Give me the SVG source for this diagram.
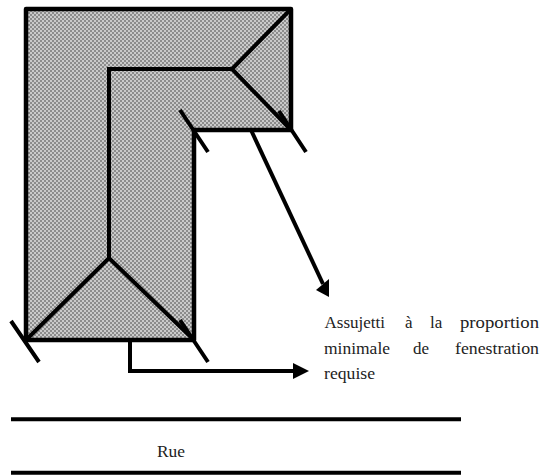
<svg xmlns="http://www.w3.org/2000/svg" width="542" height="476" viewBox="0 0 542 476">
<style>
.o{fill:none;stroke:#000;stroke-linecap:butt;stroke-width:4}
.t{font-family:"Liberation Serif","Times New Roman",serif;font-size:17px;fill:#222}
</style>
<defs>
<pattern id="chk" width="4" height="4" patternUnits="userSpaceOnUse">
<rect width="4" height="4" fill="#cacaca"/>
<rect width="2" height="2" fill="#8c8c8c"/>
<rect x="2" y="2" width="2" height="2" fill="#8c8c8c"/>
</pattern>
</defs>
<rect width="542" height="476" fill="#fff"/>
<g id="building">
<path d="M26 9H291V130H194V340H26Z" fill="url(#chk)" stroke="#000" stroke-width="4.500" stroke-linejoin="round"/>
<path class="o" d="M109 258V69H232"/>
<path class="o" d="M291 9L232 69L291 130M26 340L109 258L194 340"/>
</g>
<g id="ticks">
<path class="o" d="M180 110L208 152M279 111L306 152M11 321L39 362M180 320L208 362"/>
</g>
<g id="connectors">
<path class="o" d="M251 130L323 284"/>
<path d="M316 290L329 279V297Z"/>
<path class="o" d="M130 340V371H295"/>
<path d="M293 363L309 371L293 379Z"/>
</g>
<g id="road">
<path class="o" d="M11 419.300H461M11 472.700H461"/>
</g>
<g id="label">
<text class="t" x="324.500" y="328" textLength="60.500" lengthAdjust="spacingAndGlyphs">Assujetti</text>
<text class="t" x="405" y="328">à</text>
<text class="t" x="430" y="328">la</text>
<text class="t" x="460" y="328" textLength="79" lengthAdjust="spacingAndGlyphs">proportion</text>
<text class="t" x="324" y="354" textLength="66" lengthAdjust="spacingAndGlyphs">minimale</text>
<text class="t" x="413" y="354">de</text>
<text class="t" x="455" y="354" textLength="84" lengthAdjust="spacingAndGlyphs">fenestration</text>
<text class="t" x="324" y="379" textLength="51" lengthAdjust="spacingAndGlyphs">requise</text>
</g>
<g id="street">
<text class="t" x="157" y="457" textLength="28" lengthAdjust="spacingAndGlyphs">Rue</text>
</g>
</svg>
